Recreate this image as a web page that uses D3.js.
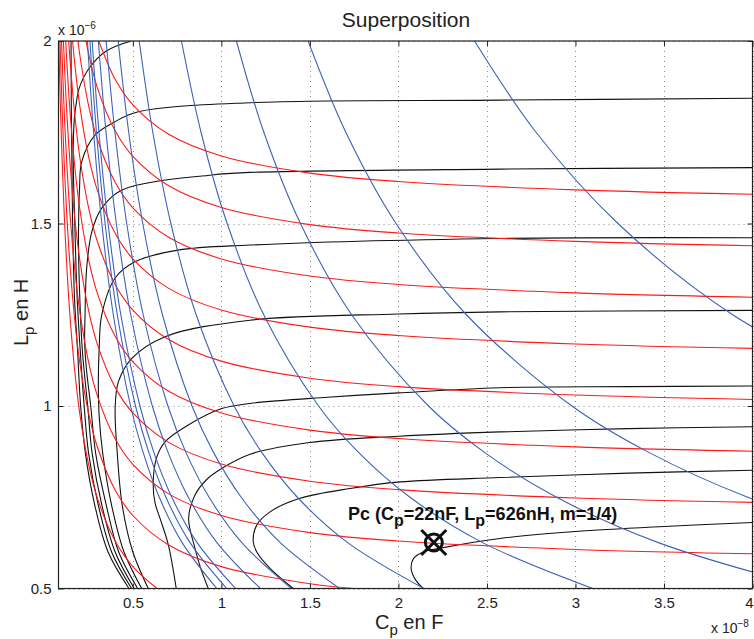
<!DOCTYPE html>
<html><head><meta charset="utf-8">
<script src="https://cdn.jsdelivr.net/npm/d3@7/dist/d3.min.js"></script>
<style>body{margin:0;background:#fff}svg text{font-family:"Liberation Sans",Arial,Helvetica,sans-serif}</style>
</head><body><svg id="c" width="754" height="639"></svg>
<script>
// ---- data (x in 1e-8 F, y in 1e-6 H) ----
const xDomain = [0.08, 4];
const yDomain = [0.5, 2];
const xTicks = [0.5, 1, 1.5, 2, 2.5, 3, 3.5, 4];
const xTickLabels = ["0.5", "1", "1.5", "2", "2.5", "3", "3.5", "4"];
const yTicks = [0.5, 1, 1.5, 2];
const yTickLabels = ["0.5", "1", "1.5", "2"];

// blue family (constant resonance contours)
const blueCurves = [
  [[0.2435,2],[0.2783,1.75],[0.3247,1.5],[0.3896,1.25],[0.487,1],[0.5566,0.875],[0.6493,0.75],[0.7792,0.625],[0.974,0.5]],
  [[0.2575,2],[0.2943,1.75],[0.3433,1.5],[0.412,1.25],[0.515,1],[0.5886,0.875],[0.6867,0.75],[0.824,0.625],[1.03,0.5]],
  [[0.27,2],[0.3086,1.75],[0.36,1.5],[0.432,1.25],[0.54,1],[0.6171,0.875],[0.72,0.75],[0.864,0.625],[1.08,0.5]],
  [[0.305,2],[0.3486,1.75],[0.4067,1.5],[0.488,1.25],[0.61,1],[0.6971,0.875],[0.8133,0.75],[0.976,0.625],[1.22,0.5]],
  [[0.349,2],[0.3989,1.75],[0.4653,1.5],[0.5584,1.25],[0.698,1],[0.7977,0.875],[0.9307,0.75],[1.1168,0.625],[1.396,0.5]],
  [[0.417,2],[0.4766,1.75],[0.556,1.5],[0.6672,1.25],[0.834,1],[0.9531,0.875],[1.112,0.75],[1.3344,0.625],[1.668,0.5]],
  [[0.536,2],[0.6126,1.75],[0.7147,1.5],[0.8576,1.25],[1.072,1],[1.2251,0.875],[1.4293,0.75],[1.7152,0.625],[2.144,0.5]],
  [[0.7745,2],[0.8851,1.75],[1.0327,1.5],[1.2392,1.25],[1.549,1],[1.7703,0.875],[2.0653,0.75],[2.4784,0.625],[3.098,0.5]],
  [[1.085,2],[1.24,1.75],[1.4467,1.5],[1.736,1.25],[2.17,1],[2.48,0.875],[2.8933,0.75],[3.472,0.625],[4.34,0.5]],
  [[1.49,2],[1.7029,1.75],[1.9867,1.5],[2.384,1.25],[2.98,1],[3.4057,0.875],[3.9733,0.75],[4.768,0.625]],
  [[2.43,2],[2.7771,1.75],[3.24,1.5],[3.888,1.25],[4.86,1]]
];

// red family
const redCurves = [
  [[0.3077,2],[0.4,1.895],[0.5,1.825],[0.7,1.745],[1,1.685],[1.5,1.638],[2,1.615],[3,1.592],[4,1.58]],
  [[0.2349,2],[0.3,1.871],[0.4,1.754],[0.5,1.684],[0.7,1.604],[1,1.544],[1.5,1.497],[2,1.474],[3,1.451],[4,1.439]],
  [[0.19,2],[0.2,1.963],[0.25,1.823],[0.3,1.73],[0.4,1.613],[0.5,1.543],[0.7,1.463],[1,1.403],[1.5,1.356],[2,1.333],[3,1.31],[4,1.298]],
  [[0.1596,2],[0.17,1.947],[0.2,1.823],[0.25,1.683],[0.3,1.59],[0.4,1.473],[0.5,1.403],[0.7,1.323],[1,1.263],[1.5,1.216],[2,1.193],[3,1.17],[4,1.158]],
  [[0.1377,2],[0.14,1.983],[0.17,1.807],[0.2,1.683],[0.25,1.543],[0.3,1.45],[0.4,1.333],[0.5,1.263],[0.7,1.183],[1,1.123],[1.5,1.076],[2,1.053],[3,1.03],[4,1.018]],
  [[0.1208,2],[0.14,1.841],[0.17,1.665],[0.2,1.541],[0.25,1.401],[0.3,1.308],[0.4,1.191],[0.5,1.121],[0.7,1.041],[1,0.981],[1.5,0.934],[2,0.911],[3,0.888],[4,0.876]],
  [[0.1078,2],[0.12,1.868],[0.14,1.701],[0.17,1.524],[0.2,1.401],[0.25,1.261],[0.3,1.168],[0.4,1.051],[0.5,0.981],[0.7,0.901],[1,0.841],[1.5,0.794],[2,0.771],[3,0.748],[4,0.736]],
  [[0.0972,2],[0.11,1.833],[0.12,1.727],[0.14,1.56],[0.17,1.384],[0.2,1.26],[0.25,1.12],[0.3,1.027],[0.4,0.91],[0.5,0.84],[0.7,0.76],[1,0.7],[1.5,0.653],[2,0.63],[3,0.607],[4,0.595]],
  [[0.0886,2],[0.1,1.82],[0.11,1.693],[0.12,1.587],[0.14,1.42],[0.17,1.244],[0.2,1.12],[0.25,0.98],[0.3,0.887],[0.4,0.77],[0.5,0.7],[0.7,0.62],[1,0.56],[1.5,0.513],[1.75,0.5]],
  [[0.0814,2],[0.09,1.836],[0.1,1.68],[0.11,1.553],[0.12,1.447],[0.14,1.28],[0.17,1.104],[0.2,0.98],[0.25,0.84],[0.3,0.747],[0.4,0.63],[0.5,0.56],[0.636,0.5]]
];

// black family
const blackCurves = [
  [[2.14,0.5],[2.095,0.525],[2.072,0.555],[2.085,0.582],[2.14,0.6],[2.254,0.612],[2.573,0.637],[3,0.656],[3.5,0.67],[4,0.681]],
  [[1.406,0.5],[1.275,0.555],[1.2,0.6],[1.18,0.628],[1.2,0.674],[1.275,0.71],[1.444,0.747],[1.727,0.774],[2.01,0.792],[2.573,0.804],[3.3,0.816],[4,0.824]],
  [[0.926,0.5],[0.88,0.56],[0.851,0.61],[0.815,0.692],[0.851,0.756],[0.92,0.8],[1.002,0.829],[1.162,0.868],[1.5,0.9],[2,0.917],[2.573,0.929],[3.3,0.938],[4,0.943]],
  [[0.745,0.5],[0.7,0.62],[0.655,0.69],[0.625,0.735],[0.615,0.792],[0.635,0.86],[0.682,0.902],[0.813,0.948],[1.002,0.993],[1.162,1.007],[1.6,1.024],[2,1.036],[2.573,1.05],[3.3,1.053],[4,1.055]],
  [[0.587,0.5],[0.5,0.6],[0.44,0.728],[0.412,0.87],[0.4,0.993],[0.418,1.066],[0.493,1.13],[0.682,1.19],[1.162,1.235],[2,1.252],[2.573,1.258],[4,1.262]],
  [[0.55,0.5],[0.45,0.6],[0.38,0.728],[0.33,0.87],[0.31,0.97],[0.305,1.06],[0.31,1.16],[0.324,1.249],[0.399,1.35],[0.512,1.395],[0.755,1.427],[1.162,1.441],[2.573,1.459],[4,1.461]],
  [[0.527,0.5],[0.42,0.6],[0.35,0.728],[0.29,0.87],[0.262,1],[0.238,1.1],[0.228,1.17],[0.23,1.249],[0.239,1.377],[0.268,1.477],[0.324,1.542],[0.439,1.592],[0.947,1.633],[1.162,1.64],[2.573,1.649],[4,1.653]],
  [[0.508,0.5],[0.4,0.6],[0.325,0.728],[0.27,0.87],[0.245,1],[0.215,1.15],[0.2,1.3],[0.193,1.45],[0.199,1.6],[0.211,1.669],[0.286,1.742],[0.399,1.779],[0.531,1.806],[1.162,1.831],[2.573,1.838],[4,1.843]],
  [[0.493,0.5],[0.38,0.6],[0.305,0.728],[0.25,0.87],[0.225,1],[0.203,1.15],[0.185,1.3],[0.172,1.5],[0.163,1.7],[0.17,1.79],[0.179,1.825],[0.197,1.871],[0.254,1.926],[0.348,1.972],[0.49,2]],
  [[0.478,0.5],[0.36,0.6],[0.285,0.728],[0.232,0.87],[0.205,1],[0.188,1.15],[0.17,1.3],[0.16,1.5],[0.155,1.7],[0.152,1.85],[0.151,2]]
];

const marker = {x: 2.2, y: 0.626};

// ---- drawing ----
const plot = {l: 58.5, r: 752.5, t: 41, b: 588.5};
const svg = d3.select("#c");
svg.append("rect").attr("width", 754).attr("height", 639).attr("fill", "#fff");
const x = d3.scaleLinear().domain(xDomain).range([plot.l, plot.r]);
const y = d3.scaleLinear().domain(yDomain).range([plot.b, plot.t]);

svg.append("clipPath").attr("id", "clip").append("rect")
  .attr("x", plot.l).attr("y", plot.t).attr("width", plot.r - plot.l).attr("height", plot.b - plot.t);

// grid
const grid = svg.append("g").attr("stroke", "#8a8a8a").attr("stroke-width", 1).attr("stroke-dasharray", "1,4");
grid.selectAll("line.gx").data(xTicks).join("line")
  .attr("x1", d => Math.round(x(d)) + 0.5).attr("x2", d => Math.round(x(d)) + 0.5)
  .attr("y1", plot.t).attr("y2", plot.b);
grid.selectAll("line.gy").data(yTicks).join("line")
  .attr("y1", d => Math.round(y(d)) + 0.5).attr("y2", d => Math.round(y(d)) + 0.5)
  .attr("x1", plot.l).attr("x2", plot.r);

const line = d3.line().x(d => x(d[0])).y(d => y(d[1])).curve(d3.curveCatmullRom.alpha(0.5));
const curves = svg.append("g").attr("clip-path", "url(#clip)").attr("fill", "none").attr("stroke-width", 1.1);
curves.selectAll("path.k").data(blackCurves).join("path").attr("class", "k").attr("d", line).attr("stroke", "#111");
curves.selectAll("path.r").data(redCurves).join("path").attr("class", "r").attr("d", line).attr("stroke", "#ff1a1a");
curves.selectAll("path.b").data(blueCurves).join("path").attr("class", "b").attr("d", line).attr("stroke", "#3d62b8");

// axes
const fmtX = d => xTickLabels[xTicks.indexOf(d)];
const fmtY = d => yTickLabels[yTicks.indexOf(d)];
const axB = svg.append("g").attr("transform", `translate(0,${plot.b})`)
  .call(d3.axisBottom(x).tickValues(xTicks).tickSize(-5).tickPadding(9).tickFormat(fmtX));
const axT = svg.append("g").attr("transform", `translate(0,${plot.t})`)
  .call(d3.axisTop(x).tickValues(xTicks).tickSize(-5).tickFormat(""));
const axL = svg.append("g").attr("transform", `translate(${plot.l},0)`)
  .call(d3.axisLeft(y).tickValues(yTicks).tickSize(-5).tickPadding(7).tickFormat(fmtY));
const axR = svg.append("g").attr("transform", `translate(${plot.r},0)`)
  .call(d3.axisRight(y).tickValues(yTicks).tickSize(-5).tickFormat(""));
[axB, axT, axL, axR].forEach(a => {
  a.select(".domain").remove();
  a.selectAll(".tick line").attr("stroke", "#222");
  a.selectAll("text").attr("font-size", 15).attr("fill", "#222").attr("font-family", "Liberation Sans, Arial, sans-serif");
});
// keep the last x label inside the window
axB.selectAll(".tick text").filter(d => d === 4).attr("text-anchor", "end").attr("x", 753 - x(4));
svg.append("rect").attr("x", plot.l).attr("y", plot.t).attr("width", plot.r - plot.l).attr("height", plot.b - plot.t)
  .attr("fill", "none").attr("stroke", "#222").attr("stroke-width", 1.2);

// title & labels
svg.append("text").attr("x", 406).attr("y", 27).attr("text-anchor", "middle").attr("font-size", 21).attr("fill", "#222").text("Superposition");

const xl = svg.append("text").attr("x", 375).attr("y", 629).attr("font-size", 20).attr("fill", "#222");
xl.append("tspan").text("C");
xl.append("tspan").attr("dy", 6).attr("font-size", 15).text("p");
xl.append("tspan").attr("dy", -6).text(" en F");

const yl = svg.append("text").attr("transform", "translate(28,346) rotate(-90)").attr("font-size", 20).attr("fill", "#222");
yl.append("tspan").text("L");
yl.append("tspan").attr("dy", 6).attr("font-size", 15).text("p");
yl.append("tspan").attr("dy", -6).text(" en H");

const e6 = svg.append("text").attr("x", 58).attr("y", 35).attr("font-size", 14).attr("fill", "#222");
e6.append("tspan").text("x 10");
e6.append("tspan").attr("dy", -6).attr("font-size", 10).text("−6");

const e8 = svg.append("text").attr("x", 711).attr("y", 633).attr("font-size", 14).attr("fill", "#222");
e8.append("tspan").text("x 10");
e8.append("tspan").attr("dy", -6).attr("font-size", 10).text("−8");

// annotation
const ann = svg.append("text").attr("x", 348).attr("y", 520).attr("font-size", 18).attr("font-weight", "bold").attr("fill", "#111");
ann.append("tspan").text("Pc (C");
ann.append("tspan").attr("dy", 6).attr("font-size", 16).text("p");
ann.append("tspan").attr("dy", -6).text("=22nF, L");
ann.append("tspan").attr("dy", 6).attr("font-size", 16).text("p");
ann.append("tspan").attr("dy", -6).text("=626nH, m=1/4)");

const mk = svg.append("g").attr("transform", `translate(${x(marker.x)},${y(marker.y)})`)
  .attr("stroke", "#111").attr("stroke-width", 3).attr("fill", "none");
mk.append("circle").attr("r", 8.5);
mk.append("line").attr("x1", -12.5).attr("y1", -12.5).attr("x2", 12.5).attr("y2", 12.5);
mk.append("line").attr("x1", -12.5).attr("y1", 12.5).attr("x2", 12.5).attr("y2", -12.5);
</script></body></html>
